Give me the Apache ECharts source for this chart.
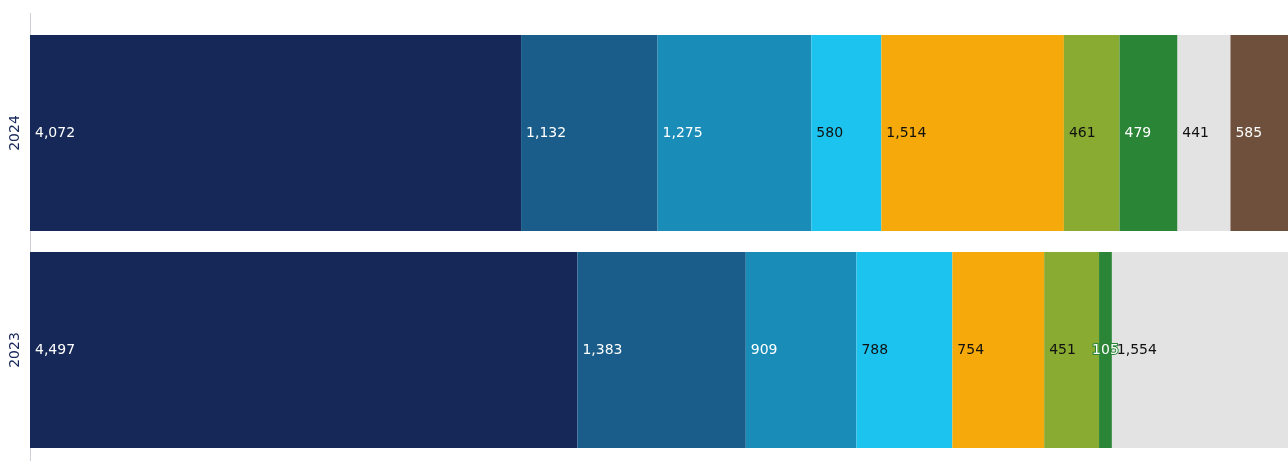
<!DOCTYPE html>
<html><head><meta charset="utf-8">
<script src="https://cdn.jsdelivr.net/npm/echarts@6/dist/echarts.min.js"></script>
<style>html,body{margin:0;padding:0;background:#fff}#c{width:1288px;height:461px}</style>
</head><body><div id="c"></div>
<script>
const years = ['2024', '2023'];
const seg1 = [4072, 4497];
const seg2 = [1132, 1383];
const seg3 = [1275, 909];
const seg4 = [580, 788];
const seg5 = [1514, 754];
const seg6 = [461, 451];
const seg7 = [479, 105];
const seg8 = [441, 1554];
const seg9 = [585, null];
const segments = [seg1, seg2, seg3, seg4, seg5, seg6, seg7, seg8, seg9];
const colors = ['#162857', '#1a5c8a', '#1a8cb8', '#1cc3ee', '#f5a90b', '#8aab31', '#2b8536', '#e3e3e3', '#6e503c'];
const labelColors = ['#fff', '#fff', '#fff', '#111', '#111', '#111', '#fff', '#111', '#fff'];

const totals = years.map((_, i) => segments.reduce((s, a) => s + (a[i] || 0), 0));
const fmt = v => v.toLocaleString('en-US');

const series = segments.map((arr, k) => ({
  type: 'bar',
  name: 'Segment ' + (k + 1),
  stack: 'total',
  barWidth: 196,
  clip: true,
  zlevel: k === 6 ? 1 : 0,
  itemStyle: { color: colors[k] },
  data: arr.map((v, i) => {
    if (v == null) return null;
    const share = v / totals[i] * 100;
    const item = { value: share, raw: v };
    if (share < 2) item.label = { position: 'inside' };
    return item;
  }),
  label: {
    show: true,
    position: 'insideLeft',
    distance: 5,
    color: labelColors[k],
    fontFamily: '"DejaVu Sans", sans-serif',
    fontSize: 14,
    textBorderColor: k === 6 ? colors[6] : 'transparent',
    textBorderWidth: k === 6 ? 2 : 0,
    formatter: p => fmt(p.data.raw)
  }
}));

// the 100% stack runs ~13px past the right edge of the picture
const visibleShare = 100 * 1258 / 1271;

const chart = echarts.init(document.getElementById('c'), null, { renderer: 'canvas' });
chart.setOption({
  animation: false,
  grid: { left: 30, right: 0, top: 24.5, bottom: 2.5 },
  graphic: [{
    type: 'line', z: -1,
    shape: { x1: 30.5, y1: 13, x2: 30.5, y2: 461 },
    style: { stroke: '#d0d0d8', lineWidth: 1 }
  }],
  xAxis: { type: 'value', min: 0, max: visibleShare, show: false },
  yAxis: {
    type: 'category',
    data: years,
    inverse: true,
    axisLine: { show: false },
    axisTick: { show: false },
    axisLabel: { rotate: 90, color: '#16285a', fontSize: 14, fontFamily: '"DejaVu Sans", sans-serif', margin: 8 }
  },
  series: series
});
</script>
</body></html>
